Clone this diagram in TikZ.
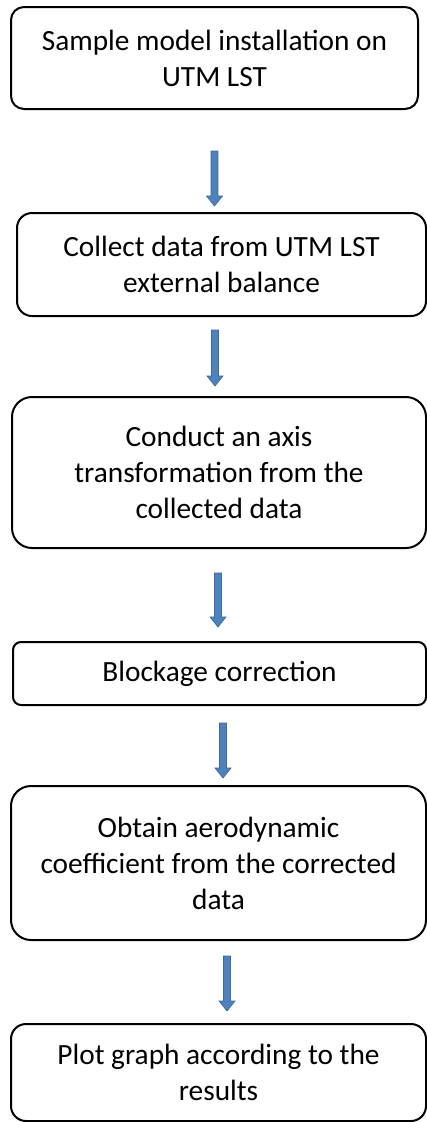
\documentclass[tikz,border=0pt]{standalone}
\usepackage{fontspec}
\setmainfont{Carlito}
\usetikzlibrary{calc}

\definecolor{arrowfill}{HTML}{4F81BD}
\definecolor{arrowline}{HTML}{3A6A9E}
\newcommand{\pxu}{0.75pt}

\tikzset{
  stepbox/.style={draw=black, line width=1.5pt, align=center, inner sep=0pt,
    font=\fontsize{22}{27}\selectfont},
  blockarrow/.style={fill=arrowfill, draw=arrowline, line width=0.5pt,
    to path={let \p1=(\tikztostart), \p2=(\tikztotarget) in
      (\x1-2.6pt,\y1) -- (\x1+2.6pt,\y1) -- (\x1+2.6pt,\y2+7.5pt)
      -- (\x1+6pt,\y2+7.5pt) -- (\x1,\y2) -- (\x1-6pt,\y2+7.5pt)
      -- (\x1-2.6pt,\y2+7.5pt) -- cycle}}
}

\begin{document}
\begin{tikzpicture}[x=0.75pt, y=-0.75pt]
  \useasboundingbox (0,0) rectangle (427,1122);

  \node[stepbox, rounded corners=13*\pxu, minimum width=407*\pxu, minimum height=102*\pxu]
    (b1) at (214.5,58) {Sample model installation on\\UTM LST};
  \node[stepbox, rounded corners=15*\pxu, minimum width=409*\pxu, minimum height=103*\pxu]
    (b2) at (221.5,264.5) {Collect data from UTM LST\\external balance};
  \node[stepbox, rounded corners=20*\pxu, minimum width=414*\pxu, minimum height=151*\pxu]
    (b3) at (219,472.5) {Conduct an axis\\transformation from the\\collected data};
  \node[stepbox, rounded corners=8*\pxu, minimum width=413*\pxu, minimum height=63*\pxu]
    (b4) at (219.5,673.5) {Blockage correction};
  \node[stepbox, rounded corners=20*\pxu, minimum width=415*\pxu, minimum height=154*\pxu]
    (b5) at (218.5,863) {Obtain aerodynamic\\coefficient from the corrected\\data};
  \node[stepbox, rounded corners=15*\pxu, minimum width=415*\pxu, minimum height=97*\pxu]
    (b6) at (218.5,1072.5) {Plot graph according to the\\results};

  \draw[blockarrow] ($(b1.south)+(0,41)$) to ($(b2.north)+(0,-6)$);
  \draw[blockarrow] ($(b2.south)+(-6.5,13)$) to ($(b3.north)+(-6.5,-10)$);
  \draw[blockarrow] ($(b3.south)+(-1,24)$) to ($(b4.north)+(-1,-14)$);
  \draw[blockarrow] ($(b4.south)+(3.5,17)$) to ($(b5.north)+(3.5,-7)$);
  \draw[blockarrow] ($(b5.south)+(8.5,15)$) to ($(b6.north)+(8.5,-12)$);
\end{tikzpicture}
\end{document}
